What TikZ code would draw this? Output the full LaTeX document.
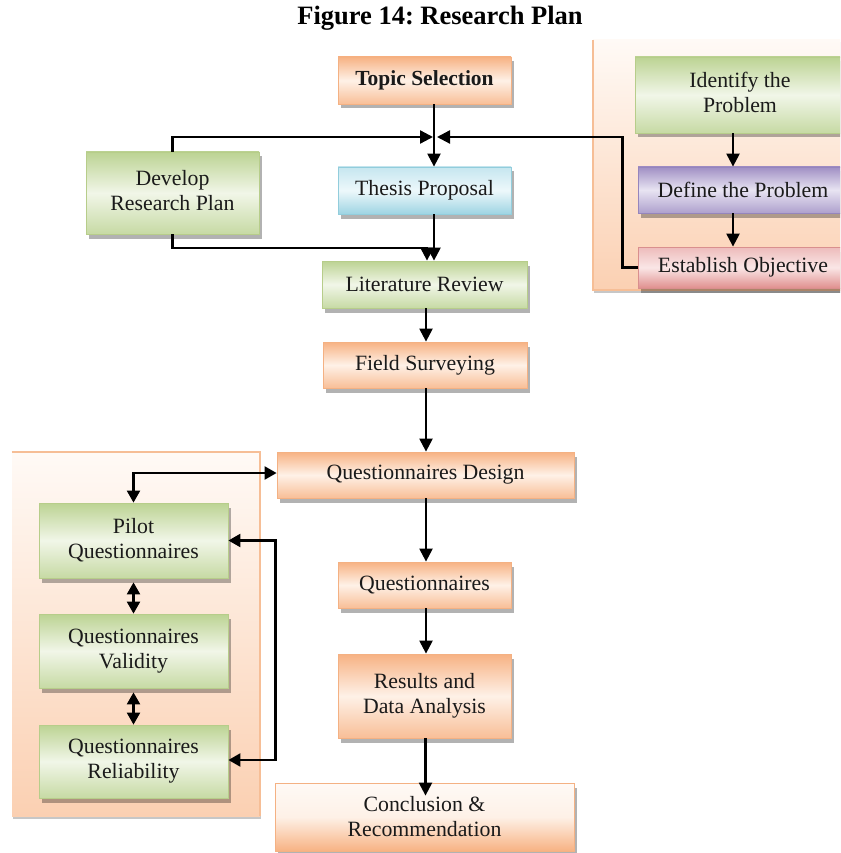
\documentclass[tikz,border=0pt]{standalone}
\usepackage{fontspec}
\setmainfont{Liberation Serif}
\usetikzlibrary{arrows.meta,shadows}
\definecolor{txt}{HTML}{1A1A1A}
\definecolor{oD}{HTML}{F7B283}
\definecolor{oL}{HTML}{FEF1E7}
\definecolor{oB}{HTML}{F4B183}
\definecolor{gD}{HTML}{BCD393}
\definecolor{gL}{HTML}{F1F6E8}
\definecolor{gB}{HTML}{B7CD8A}
\definecolor{bD}{HTML}{9ED4E3}
\definecolor{bL}{HTML}{EDF8FB}
\definecolor{bB}{HTML}{92CDDC}
\definecolor{pD}{HTML}{A08FC4}
\definecolor{pL}{HTML}{E8E4F2}
\definecolor{pB}{HTML}{9585BD}
\definecolor{rD}{HTML}{E0908F}
\definecolor{rL}{HTML}{FAE6E6}
\definecolor{rB}{HTML}{D98F8E}
\definecolor{panT}{HTML}{FFFAF6}
\definecolor{panB}{HTML}{FBD0B2}
\definecolor{panE}{HTML}{F6BE96}
\tikzset{
  box/.style={rectangle, inner sep=2pt, align=center, text=txt,
    font=\fontsize{21.8}{25}\selectfont, line width=0.8pt,
    drop shadow={shadow xshift=2.5pt, shadow yshift=-4.5pt, fill=black, opacity=0.3}},
  obox/.style={box, draw=oB, top color=oD, bottom color=oD!80!oL, middle color=oL},
  gbox/.style={box, draw=gB, top color=gD, bottom color=gD!80!gL, middle color=gL},
  bbox/.style={box, draw=bB, top color=bD!50!bL, bottom color=bD, middle color=bL},
  pbox/.style={box, draw=pB, top color=pD, bottom color=pD!80!pL, middle color=pL},
  rbox/.style={box, draw=rB, top color=rD!50!rL, bottom color=rD, middle color=rL},
  panel/.style={rectangle, inner sep=0pt, top color=panT, bottom color=panB,
    drop shadow={shadow xshift=1pt, shadow yshift=-2.5pt, fill=black, opacity=0.22}},
  panedge/.style={draw=panE, line width=1.6pt},
  arr/.style={line width=2.3pt, draw=black, -{Triangle[length=13pt,width=13pt]}},
  arrb/.style={line width=2.3pt, draw=black, {Triangle[length=12pt,width=13pt]}-{Triangle[length=12pt,width=13pt]}}
}
\begin{document}
\begin{tikzpicture}[x=1pt,y=-1pt]
\clip (0,0) rectangle (840,853);
\fill[white] (0,0) rectangle (840,853);

% title
\node[font=\fontsize{26.5}{30}\selectfont\bfseries\frenchspacing, text=black] (title) at (440,18) {Figure 14: Research Plan};

% panels
\node[panel, minimum width=267pt, minimum height=250pt] (rpanel) at (726.5,165) {};
\draw[panedge] (rpanel.north west) -- (rpanel.south west) -- (rpanel.south east);
\node[panel, minimum width=248pt, minimum height=364pt] (lpanel) at (136,634) {};
\draw[panedge] (lpanel.north west) -- (lpanel.north east) -- (lpanel.south east);

% boxes
\node[obox, font=\fontsize{21.5}{25}\selectfont\bfseries, minimum width=173pt, minimum height=47pt] (topic) at (424.5,80.5) {Topic Selection};
\node[gbox, minimum width=225pt, minimum height=76pt] (identify) at (747.5,95) {\hspace*{-15pt}\begin{tabular}{@{}c@{}}Identify the\\Problem\end{tabular}};
\node[gbox, minimum width=173pt, minimum height=82pt] (develop) at (172.5,193) {\raisebox{3pt}{\begin{tabular}{@{}c@{}}Develop\\Research Plan\end{tabular}}};
\node[bbox, minimum width=173pt, minimum height=47pt] (thesis) at (424.5,190.5) {Thesis Proposal};
\node[pbox, minimum width=222pt, minimum height=46pt] (define) at (749,190) {\hspace*{-12pt}Define the Problem};
\node[rbox, minimum width=222pt, minimum height=41pt] (establish) at (749,267.5) {\hspace*{-12pt}Establish Objective};
\node[gbox, minimum width=205pt, minimum height=47pt] (litrev) at (424.5,284.5) {Literature Review};
\node[obox, minimum width=204pt, minimum height=46pt] (field) at (425,365) {Field Surveying};
\node[obox, minimum width=297pt, minimum height=46pt] (qdesign) at (425.5,475) {Questionnaires Design};
\node[gbox, minimum width=189pt, minimum height=75pt] (pilot) at (133.5,540.5) {Pilot\\Questionnaires};
\node[gbox, minimum width=189pt, minimum height=74pt] (validity) at (133.5,651) {Questionnaires\\Validity};
\node[gbox, minimum width=189pt, minimum height=73pt] (reliab) at (133.5,761.5) {Questionnaires\\Reliability};
\node[obox, minimum width=173pt, minimum height=46pt] (quest) at (424.5,585) {Questionnaires};
\node[obox, minimum width=173pt, minimum height=84pt] (results) at (424.5,696) {\raisebox{6pt}{\begin{tabular}{@{}c@{}}Results and\\Data Analysis\end{tabular}}};
\node[obox, minimum width=299pt, minimum height=68pt, top color=oL!40!white, bottom color=oD, middle color=oL] (concl) at (424.5,817) {Conclusion \&\\Recommendation};

% junction coordinates
\coordinate (jn) at (434,137);
\coordinate (dj) at (427,248);

% connectors
\draw[arr] ([xshift=9.5pt]topic.south) -- ([xshift=9.5pt]thesis.north);
\draw[arr] (develop.north) |- ([xshift=-1pt]jn);
\draw[arr] (establish.west) -- ++(-15,0) |- ([xshift=3pt]jn);
\draw[arr] (develop.south) |- (dj) -- (dj |- litrev.north);
\draw[arr] ([xshift=9.5pt]thesis.south) -- ([xshift=9.5pt]thesis.south |- litrev.north);
\draw[arr] ([xshift=-14.5pt]identify.south) -- ([xshift=-14.5pt]identify.south |- define.north);
\draw[arr] ([xshift=-16pt]define.south) -- ([xshift=-16pt]define.south |- establish.north);
\draw[arr] ([xshift=1.5pt]litrev.south) -- ([xshift=1.5pt]litrev.south |- field.north);
\draw[arr] ([xshift=1pt]field.south) -- ([xshift=1pt]field.south |- qdesign.north);
\draw[arr] ([xshift=0.5pt]qdesign.south) -- ([xshift=0.5pt]qdesign.south |- quest.north);
\draw[arr] ([xshift=1.5pt]quest.south) -- ([xshift=1.5pt]quest.south |- results.north);
\draw[arr, shorten >=-13pt] ([xshift=1pt]results.south) -- ([xshift=1pt]results.south |- concl.north);
\draw[arrb] (pilot.north) |- ([yshift=2pt]qdesign.west);
\draw[arrb] ([yshift=-4pt]pilot.south) -- (validity.north);
\draw[arrb] ([yshift=-4pt]validity.south) -- (reliab.north);
\draw[arrb] (pilot.east) -- ++(47,0) |- ([yshift=1.5pt]reliab.east);
\end{tikzpicture}
\end{document}
